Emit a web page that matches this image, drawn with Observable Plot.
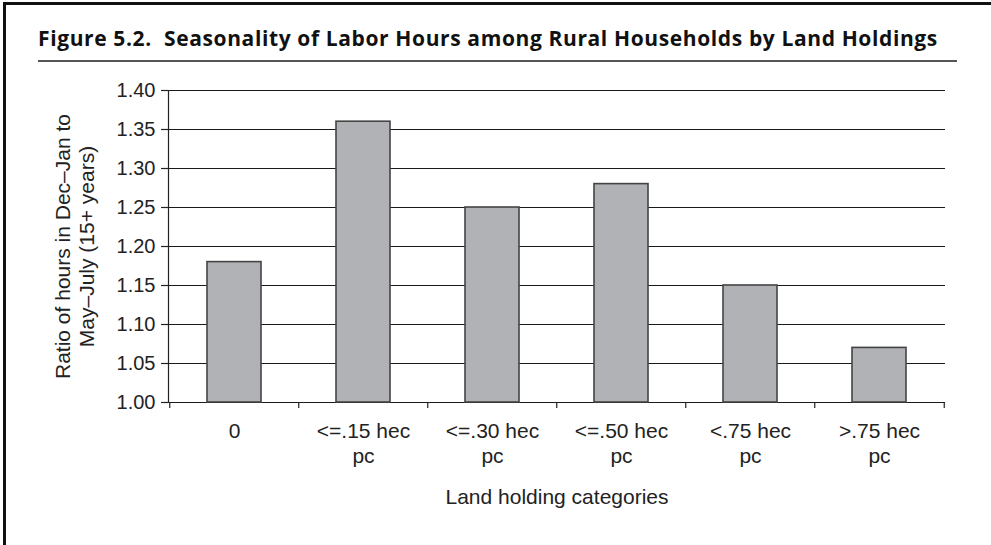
<!DOCTYPE html>
<html>
<head>
<meta charset="utf-8">
<script src="https://cdn.jsdelivr.net/npm/d3@7"></script>
<script src="https://cdn.jsdelivr.net/npm/@observablehq/plot@0.6"></script>
<style>
  html, body { margin: 0; padding: 0; background: #fff; }
  body { width: 991px; height: 545px; position: relative; overflow: hidden; }
  #frame { position: absolute; left: 3px; top: 2px; width: 1000px; height: 560px; z-index: 5;
           border-left: 3px solid #111; border-top: 3px solid #111; pointer-events: none; }
  #title { position: absolute; left: 38px; top: 24px; font-family: "Open Sans", sans-serif;
           font-weight: 700; font-size: 21px; color: #111; white-space: nowrap; letter-spacing: 0.62px; }
  #rule { position: absolute; left: 38px; top: 60px; width: 919px; height: 2px; background: #555; }
  #chart { position: absolute; left: 0; top: 70px; }
</style>
</head>
<body>
<div id="chart"></div>
<div id="title">Figure 5.2.&nbsp; Seasonality of Labor Hours among Rural Households by Land Holdings</div>
<div id="rule"></div>
<div id="frame"></div>
<script>
const categories = ["0", "<=.15 hec\npc", "<=.30 hec\npc", "<=.50 hec\npc", "<.75 hec\npc", ">.75 hec\npc"];
const ratios = [1.18, 1.36, 1.25, 1.28, 1.15, 1.07];
const yTicks = [1.00, 1.05, 1.10, 1.15, 1.20, 1.25, 1.30, 1.35, 1.40];
const xTitle = "Land holding categories";
const yTitle = "Ratio of hours in Dec\u2013Jan to\nMay\u2013July (15+ years)";

const data = categories.map((c, i) => ({category: c, ratio: ratios[i]}));

const width = 991, height = 475;
const marginLeft = 168, marginRight = 46, marginTop = 20, marginBottom = 143;
const step = (width - marginLeft - marginRight) / categories.length;
const yMin = yTicks[0], yMax = yTicks[yTicks.length - 1];

const chart = Plot.plot({
  width, height, marginLeft, marginRight, marginTop, marginBottom,
  style: {fontFamily: "'Liberation Sans', Arial, sans-serif", color: "#222", background: "transparent"},
  x: {domain: categories, paddingInner: 0.58, paddingOuter: 0.29, label: null},
  y: {domain: [yMin, yMax], label: null},
  marks: [
    Plot.ruleY(yTicks, {stroke: "#1a1a1a", strokeWidth: 1.2}),
    Plot.barY(data, {x: "category", y1: () => yMin, y2: "ratio", fill: "#b1b2b5", stroke: "#444", strokeWidth: 1.6}),
    Plot.frame({anchor: "left", stroke: "#222", strokeWidth: 1.2}),
    Plot.axisY({ticks: yTicks, tickFormat: d3.format(".2f"), tickSize: 7, tickPadding: 6, fontSize: 20, stroke: "#222", strokeWidth: 1.2, label: null}),
    Plot.axisX({tickSize: 6, text: null, dx: -step / 2, stroke: "#222", strokeWidth: 1.2, label: null}),
    Plot.axisX({ticks: [categories[categories.length - 1]], tickSize: 6, text: null, dx: step / 2, stroke: "#222", strokeWidth: 1.2, label: null}),
    Plot.axisX({tickSize: 0, tickPadding: 18, fontSize: 21, lineHeight: 1.19, label: null}),
    Plot.text([xTitle], {frameAnchor: "bottom", dy: 101, fontSize: 21, fill: "#222"}),
    Plot.text([yTitle], {frameAnchor: "left", textAnchor: "middle", rotate: -90, dx: -94.5, fontSize: 21, lineHeight: 1.19, fill: "#222"})
  ]
});
document.getElementById("chart").appendChild(chart);
</script>
</body>
</html>
